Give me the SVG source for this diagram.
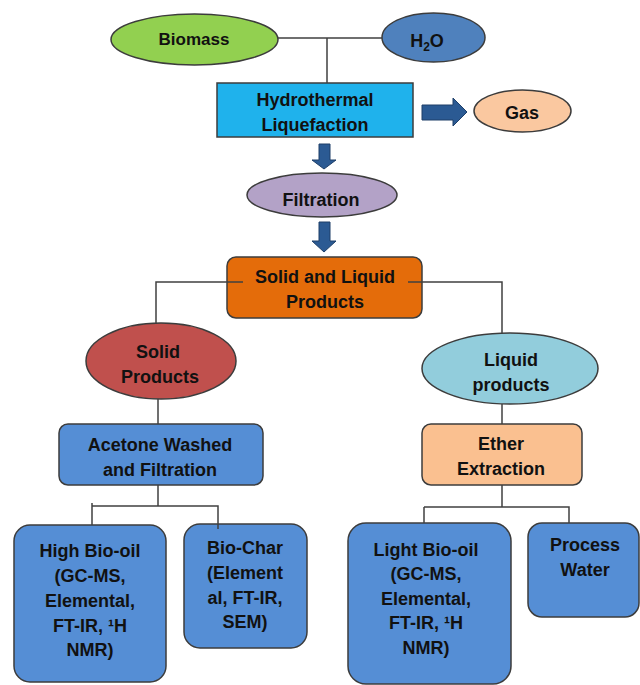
<svg xmlns="http://www.w3.org/2000/svg" width="640" height="685" viewBox="0 0 640 685">
<style>
  text { font-family: "Liberation Sans", Arial, sans-serif; font-weight: bold; font-size: 18px; fill: #111; text-anchor: middle; }
  .node { stroke: #3c3c3c; stroke-width: 1.5; }
  .conn { stroke: #404040; stroke-width: 1.5; fill: none; }
  .arrow { fill: #2B5A93; stroke: #1E3F69; stroke-width: 1; }
</style>
<rect x="0" y="0" width="640" height="685" fill="#ffffff"/>

<g id="biomass">
  <ellipse class="node" cx="194.5" cy="39.5" rx="83.5" ry="25.5" fill="#92D050"/>
  <text x="194" y="45" style="font-size:17px">Biomass</text>
</g>
<g id="h2o">
  <ellipse class="node" cx="433.5" cy="37.5" rx="51.5" ry="24.5" fill="#4F81BD"/>
  <text x="427" y="47">H<tspan style="font-size:12px" dy="4">2</tspan><tspan dy="-4">O</tspan></text>
</g>
<g id="htl">
  <rect class="node" x="217" y="83" width="196" height="54" fill="#1FB2EC"/>
  <text x="315" y="106">Hydrothermal</text>
  <text x="315" y="131">Liquefaction</text>
</g>
<g id="gas">
  <ellipse class="node" cx="522.5" cy="111" rx="48.5" ry="21" fill="#FAC8A0"/>
  <text x="522" y="119">Gas</text>
</g>
<g id="filtration">
  <ellipse class="node" cx="322" cy="195" rx="75" ry="22" fill="#B3A2C7"/>
  <text x="321" y="206">Filtration</text>
</g>
<g id="solid-liquid">
  <rect class="node" x="227" y="257" width="195" height="61" rx="9" fill="#E46C0A"/>
  <text x="325" y="283">Solid and Liquid</text>
  <text x="325" y="308">Products</text>
</g>
<g id="solid-products">
  <ellipse class="node" cx="161" cy="361" rx="75" ry="38" fill="#C0504D"/>
  <text x="158" y="358">Solid</text>
  <text x="160" y="383">Products</text>
</g>
<g id="liquid-products">
  <ellipse class="node" cx="510" cy="368.5" rx="88" ry="35.5" fill="#92CDDC"/>
  <text x="511" y="366">Liquid</text>
  <text x="511" y="391">products</text>
</g>
<g id="acetone">
  <rect class="node" x="59" y="424" width="204" height="61" rx="9" fill="#558ED5"/>
  <text x="160" y="451">Acetone Washed</text>
  <text x="160" y="476">and Filtration</text>
</g>
<g id="ether">
  <rect class="node" x="422" y="424" width="160" height="61" rx="9" fill="#FAC090"/>
  <text x="501" y="450">Ether</text>
  <text x="501" y="475">Extraction</text>
</g>
<g id="high-bio-oil">
  <rect class="node" x="14" y="525" width="152" height="157" rx="16" fill="#558ED5"/>
  <text x="90" y="557">High Bio-oil</text>
  <text x="90" y="582">(GC-MS,</text>
  <text x="90" y="607">Elemental,</text>
  <text x="90" y="632">FT-IR, ¹H</text>
  <text x="90" y="656">NMR)</text>
</g>
<g id="bio-char">
  <rect class="node" x="184" y="524" width="123" height="124" rx="16" fill="#558ED5"/>
  <text x="245" y="554">Bio-Char</text>
  <text x="245" y="579">(Element</text>
  <text x="245" y="604">al, FT-IR,</text>
  <text x="245" y="628">SEM)</text>
</g>
<g id="light-bio-oil">
  <rect class="node" x="348" y="523" width="163" height="161" rx="18" fill="#558ED5"/>
  <text x="426" y="556">Light Bio-oil</text>
  <text x="426" y="580">(GC-MS,</text>
  <text x="426" y="605">Elemental,</text>
  <text x="426" y="629">FT-IR, ¹H</text>
  <text x="426" y="654">NMR)</text>
</g>
<g id="process-water">
  <rect class="node" x="528" y="523" width="111" height="94" rx="14" fill="#558ED5"/>
  <text x="585" y="551">Process</text>
  <text x="585" y="576">Water</text>
</g>

<g id="connectors">
  <path class="conn" d="M278 38 H382 M327 38 V83"/>
  <polygon class="arrow" points="422,105 453,105 453,98 467,112 453,126 453,120 422,120"/>
  <polygon class="arrow" points="319,144 330,144 330,160 336,160 324,169 312,160 319,160"/>
  <polygon class="arrow" points="319,222 330,222 330,241 336,241 324,252 312,241 319,241"/>
  <path class="conn" d="M243 282 H156 V323"/>
  <path class="conn" d="M408 282 H502 V333"/>
  <path class="conn" d="M158 399 V424"/>
  <path class="conn" d="M502 404 V424"/>
  <path class="conn" d="M158 485 V506 M92 506 H218 V529 M92 503 V525"/>
  <path class="conn" d="M502 485 V507 M424 507 H569 V523 M424 507 V523"/>
</g>
</svg>
